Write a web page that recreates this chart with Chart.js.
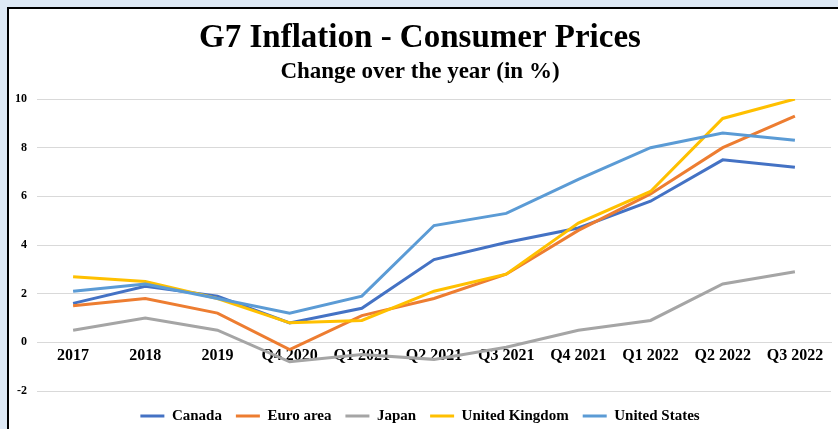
<!DOCTYPE html>
<html>
<head>
<meta charset="utf-8">
<script src="https://cdn.jsdelivr.net/npm/chart.js@4"></script>
<style>
  html, body { margin: 0; padding: 0; overflow: hidden; background: #dee9f5; }
  #panel {
    position: absolute; left: 7px; top: 7px;
    width: 829px; height: 428px;
    border-top: 2px solid #000; border-left: 2px solid #000;
    background: #fff;
  }
  #grafico { display: block; }
</style>
</head>
<body>
<div id="panel">
  <canvas id="grafico" width="829" height="428" style="width:829px;height:428px"></canvas>
</div>
<script>
var periodos = ["2017", "2018", "2019", "Q4 2020", "Q1 2021", "Q2 2021", "Q3 2021", "Q4 2021", "Q1 2022", "Q2 2022", "Q3 2022"];

var canada = [1.6, 2.3, 1.9, 0.8, 1.4, 3.4, 4.1, 4.7, 5.8, 7.5, 7.2];
var euroArea = [1.5, 1.8, 1.2, -0.3, 1.1, 1.8, 2.8, 4.6, 6.1, 8.0, 9.3];
var japon = [0.5, 1.0, 0.5, -0.8, -0.5, -0.7, -0.2, 0.5, 0.9, 2.4, 2.9];
var reinoUnido = [2.7, 2.5, 1.8, 0.8, 0.9, 2.1, 2.8, 4.9, 6.2, 9.2, 10.0];
var estadosUnidos = [2.1, 2.4, 1.8, 1.2, 1.9, 4.8, 5.3, 6.7, 8.0, 8.6, 8.3];

var fuente = "'Liberation Serif', 'Times New Roman', serif";

function serie(nombre, valores, color, orden) {
    return {
        label: nombre,
        data: valores,
        borderColor: color,
        backgroundColor: color,
        borderWidth: 3,
        pointRadius: 0,
        pointStyle: 'line',
        tension: 0,
        fill: false,
        order: orden
    };
}

var ctx1 = document.getElementById("grafico").getContext("2d");
window.myLine = new Chart(ctx1, {
    type: 'line',
    data: {
        labels: periodos,
        datasets: [
            serie("Canada", canada, "#4472C4", 5),
            serie("Euro area", euroArea, "#ED7D31", 4),
            serie("Japan", japon, "#A5A5A5", 3),
            serie("United Kingdom", reinoUnido, "#FFC000", 2),
            serie("United States", estadosUnidos, "#5B9BD5", 1)
        ]
    },
    options: {
        responsive: false,
        animation: false,
        layout: { padding: { left: 0, right: 7, top: 0, bottom: 3.5 } },
        plugins: {
            title: {
                display: true,
                text: "G7 Inflation - Consumer Prices",
                color: "#000",
                font: { family: fuente, size: 33, weight: 'bold', lineHeight: 1.2 },
                padding: { top: 10, bottom: 0 }
            },
            subtitle: {
                display: true,
                text: "Change over the year (in %)",
                color: "#000",
                font: { family: fuente, size: 23, weight: 'bold', lineHeight: 1.2 },
                padding: { top: 0, bottom: 12.8 }
            },
            legend: {
                position: 'bottom',
                title: { display: true, text: '', font: { size: 1, lineHeight: 1 }, padding: { top: 0, bottom: 2.5 } },
                labels: {
                    usePointStyle: true,
                    pointStyleWidth: 24,
                    padding: 14,
                    color: "#000",
                    font: { family: fuente, size: 15, weight: 'bold' },
                    sort: function (a, b) { return a.datasetIndex - b.datasetIndex; }
                }
            },
            tooltip: { enabled: false }
        },
        scales: {
            x: {
                position: { y: 0 },
                offset: true,
                grid: { display: false, drawTicks: false },
                border: { display: true, color: "#d9d9d9", width: 1 },
                ticks: {
                    color: "#000",
                    padding: 4,
                    maxRotation: 0,
                    autoSkip: false,
                    font: { family: fuente, size: 16, weight: 'bold' }
                }
            },
            y: {
                min: -2,
                max: 10,
                grid: { color: "#d9d9d9", lineWidth: 1, drawTicks: false },
                border: { display: false },
                ticks: {
                    stepSize: 2,
                    color: "#000",
                    padding: 10,
                    font: { family: fuente, size: 12, weight: 'bold' }
                },
                afterFit: function (escala) { escala.width = 28; }
            }
        }
    }
});
</script>
</body>
</html>
